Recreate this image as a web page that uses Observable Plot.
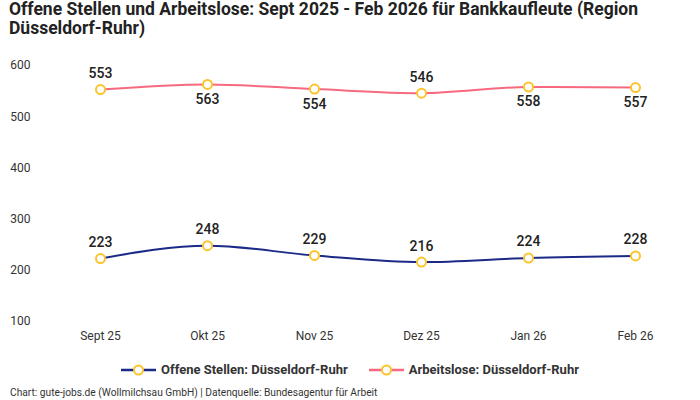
<!DOCTYPE html>
<html><head><meta charset="utf-8">
<script src="https://cdn.jsdelivr.net/npm/d3@7"></script>
<script src="https://cdn.jsdelivr.net/npm/@observablehq/plot@0.6"></script>
<style>
body{margin:0;background:#fff;font-family:Roboto,"Noto Sans",sans-serif;width:700px;height:400px;overflow:hidden;position:relative}
#title{position:absolute;left:9px;top:0px;width:640px;font-weight:700;font-size:17.5px;line-height:19px;color:#222}
#chart{position:absolute;left:0;top:45px}
#legend{position:absolute;left:0;top:362px;width:700px;display:flex;justify-content:center;gap:21px;font-size:13px;font-weight:700;color:#333}
#legend .it{display:flex;align-items:center;gap:5px}
#caption{position:absolute;left:10px;top:387px;font-size:10.2px;color:#333}
</style></head><body>
<div id="title">Offene Stellen und Arbeitslose: Sept 2025 - Feb 2026 für Bankkaufleute (Region Düsseldorf-Ruhr)</div>
<div id="chart"></div>
<div id="legend"></div>
<div id="caption">Chart: gute-jobs.de (Wollmilchsau GmbH) | Datenquelle: Bundesagentur für Arbeit</div>
<script>
const months = ["Sept 25","Okt 25","Nov 25","Dez 25","Jan 26","Feb 26"];
const offeneStellen = [223,248,229,216,224,228];
const arbeitslose = [553,563,554,546,558,557];
const yTicks = [100,200,300,400,500,600];
const seriesNames = ["Offene Stellen: Düsseldorf-Ruhr","Arbeitslose: Düsseldorf-Ruhr"];
const colors = ["#1b2a87","#f7697f"];
const markerStroke = "#fcc42c";

const rows = [];
months.forEach((m,i)=>{
  rows.push({month:m, value:offeneStellen[i], series:seriesNames[0], above:true});
  rows.push({month:m, value:arbeitslose[i], series:seriesNames[1], above:[0,3].includes(i)});
});

const plot = Plot.plot({
  width:700, height:304,
  marginLeft:45, marginRight:10, marginTop:20, marginBottom:28,
  style:{fontFamily:"Roboto, 'Noto Sans', sans-serif", fontSize:"12px", color:"#333"},
  x:{type:"point", domain:months, padding:0.5, label:null, tickSize:0, tickPadding:10},
  y:{domain:[100,600], ticks:yTicks, label:null, tickSize:0, tickPadding:15},
  color:{domain:seriesNames, range:colors},
  marks:[
    Plot.gridY(yTicks,{stroke:"#c8c8c8", strokeOpacity:1, strokeDasharray:"4,3", x1:45, x2:690}),
    Plot.axisY({ticks:yTicks, tickSize:0, tickPadding:15, label:null, fill:"#333"}),
    Plot.line(rows,{x:"month", y:"value", z:"series", stroke:"series", strokeWidth:2, curve:"monotone-x"}),
    Plot.dot(rows,{x:"month", y:"value", r:4.5, fill:"white", stroke:markerStroke, strokeWidth:2}),
    Plot.text(rows.filter(d=>d.above),{x:"month", y:"value", text:d=>String(d.value), dy:-16, fontSize:14, fontWeight:500, fill:"#222"}),
    Plot.text(rows.filter(d=>!d.above),{x:"month", y:"value", text:d=>String(d.value), dy:15, fontSize:14, fontWeight:500, fill:"#222"})
  ]
});
document.getElementById("chart").append(plot);

const leg = document.getElementById("legend");
seriesNames.forEach((name,i)=>{
  const it = document.createElement("div"); it.className="it";
  it.innerHTML = `<svg width="35" height="14"><line x1="0" x2="35" y1="7" y2="7" stroke="${colors[i]}" stroke-width="2.5"/><circle cx="17.5" cy="7" r="4.5" fill="white" stroke="${markerStroke}" stroke-width="2"/></svg><span>${name}</span>`;
  leg.append(it);
});
</script>
</body></html>
